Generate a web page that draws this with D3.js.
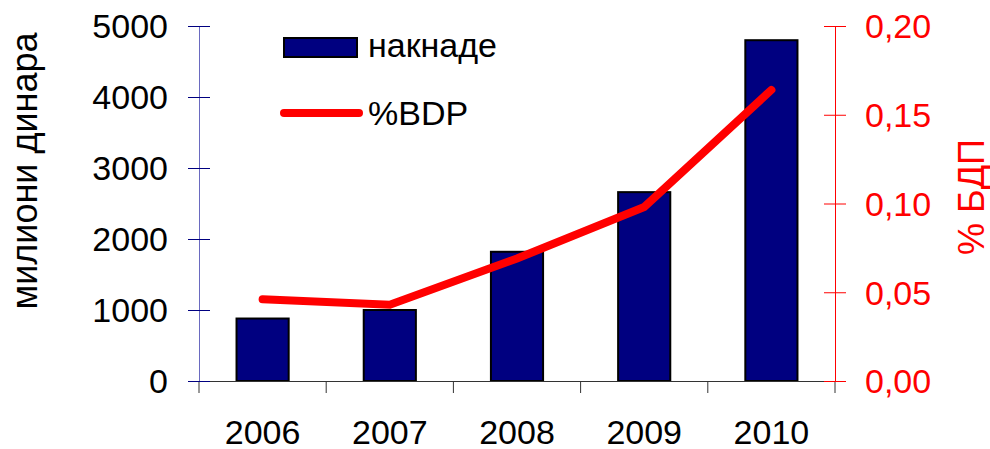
<!DOCTYPE html>
<html>
<head>
<meta charset="utf-8">
<script src="https://cdn.jsdelivr.net/npm/d3@7"></script>
<style>
  body { margin: 0; background: #fff; }
  text { font-family: "Liberation Sans", Arial, sans-serif; }
</style>
</head>
<body>
<div id="vis"></div>
<script>
// data
const years = ["2006", "2007", "2008", "2009", "2010"];
const naknade = [880, 1000, 1820, 2660, 4800];       // милиони динара
const bdpShare = [0.046, 0.043, 0.069, 0.098, 0.164]; // % БДП
const leftTicks = [0, 1000, 2000, 3000, 4000, 5000];
const rightTicks = [0, 0.05, 0.10, 0.15, 0.20];

const W = 990, H = 449;
const plotLeft = 199, plotRight = 835, plotTop = 26, plotBottom = 381;

const svg = d3.select("#vis").append("svg")
  .attr("width", W).attr("height", H);

const x = d3.scaleBand().domain(years).range([plotLeft, plotRight]).padding(0);
const yL = d3.scaleLinear().domain([0, 5000]).range([plotBottom, plotTop]);
const yR = d3.scaleLinear().domain([0, 0.2]).range([plotBottom, plotTop]);

const barW = x.bandwidth() * 0.41;

// bars
svg.append("g").selectAll("rect")
  .data(years.map((y, i) => ({ year: y, v: naknade[i] })))
  .join("rect")
  .attr("x", d => x(d.year) + x.bandwidth() / 2 - barW / 2)
  .attr("y", d => yL(d.v))
  .attr("width", barW)
  .attr("height", d => yL(0) - yL(d.v))
  .attr("fill", "#000080")
  .attr("stroke", "#000")
  .attr("stroke-width", 2);

// x axis
const xAxis = svg.append("g").attr("transform", `translate(0,${plotBottom})`)
  .call(d3.axisBottom(x).tickSize(0).tickPadding(39).tickSizeOuter(0));
xAxis.select(".domain").attr("stroke", "#333");
xAxis.selectAll("text").attr("font-size", 34).attr("fill", "#000")
  .attr("font-family", "Liberation Sans, Arial, sans-serif");
// boundary ticks between categories
xAxis.selectAll("line.sep")
  .data(years.map(y => x(y)).concat([plotRight]))
  .join("line")
  .attr("class", "sep")
  .attr("x1", d => d).attr("x2", d => d)
  .attr("y1", 0).attr("y2", 12)
  .attr("stroke", "#333");

// left axis
const lAxis = svg.append("g").attr("transform", `translate(${plotLeft},0)`)
  .call(d3.axisLeft(yL).tickValues(leftTicks).tickFormat(d3.format("d"))
    .tickSize(11).tickPadding(20).tickSizeOuter(0));
lAxis.select(".domain").attr("stroke", "#6a6ac0");
lAxis.selectAll(".tick line").attr("stroke", "#000080").attr("x2", 11).attr("x1", -11);
lAxis.selectAll("text").attr("font-size", 34).attr("fill", "#000")
  .attr("x", -31).attr("dy", "0.35em")
  .attr("font-family", "Liberation Sans, Arial, sans-serif");

// right axis
const fmt = d => d3.format(".2f")(d).replace(".", ",");
const rAxis = svg.append("g").attr("transform", `translate(${plotRight},0)`)
  .call(d3.axisRight(yR).tickValues(rightTicks).tickFormat(fmt).tickSize(11).tickPadding(20).tickSizeOuter(0));
rAxis.select(".domain").attr("stroke", "#ff0000");
rAxis.selectAll(".tick line").attr("stroke", "#ff0000").attr("x1", -11).attr("x2", 11);
rAxis.selectAll("text").attr("font-size", 34).attr("fill", "#ff0000")
  .attr("x", 30).attr("dy", "0.35em")
  .attr("font-family", "Liberation Sans, Arial, sans-serif");

// line
const line = d3.line()
  .x((d, i) => x(years[i]) + x.bandwidth() / 2)
  .y(d => yR(d));
svg.append("path")
  .datum(bdpShare)
  .attr("fill", "none")
  .attr("stroke", "#ff0000")
  .attr("stroke-width", 8)
  .attr("stroke-linecap", "round")
  .attr("d", line);

// axis titles
svg.append("text")
  .attr("transform", "translate(37,171) rotate(-90)")
  .attr("text-anchor", "middle")
  .attr("font-size", 36)
  .attr("fill", "#000")
  .text("милиони динара");

svg.append("text")
  .attr("transform", "translate(984,197) rotate(-90)")
  .attr("text-anchor", "middle")
  .attr("font-size", 36)
  .attr("fill", "#ff0000")
  .text("% БДП");

// legend
const legend = svg.append("g");
legend.append("rect")
  .attr("x", 284).attr("y", 38).attr("width", 73).attr("height", 19)
  .attr("fill", "#000080").attr("stroke", "#000").attr("stroke-width", 2);
legend.append("text").attr("x", 368).attr("y", 57)
  .attr("font-size", 34).attr("fill", "#000").text("накнаде");
legend.append("line")
  .attr("x1", 284).attr("x2", 359).attr("y1", 113).attr("y2", 113)
  .attr("stroke", "#ff0000").attr("stroke-width", 8).attr("stroke-linecap", "round");
legend.append("text").attr("x", 368).attr("y", 125)
  .attr("font-size", 34).attr("fill", "#000").text("%BDP");
</script>
</body>
</html>
